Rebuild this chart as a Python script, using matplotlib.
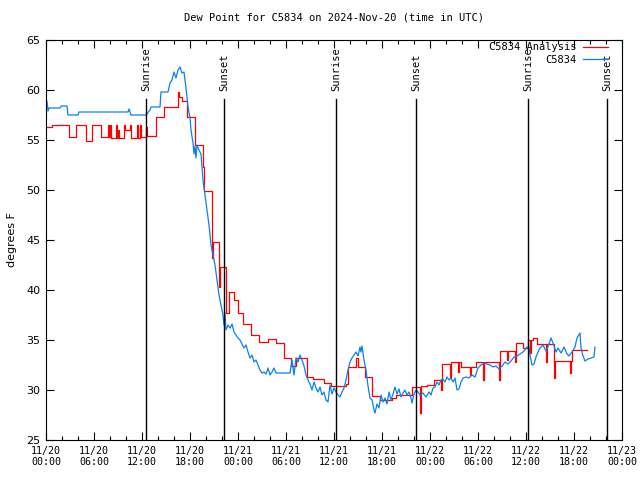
import matplotlib
matplotlib.use("Agg")
import matplotlib.pyplot as plt
import numpy as np

# ---- data (hours since 2024-11-20 00:00 UTC) ----
red_hours = [0, 0.75, 2.875, 3.75, 5.0, 5.75, 6.875, 7.75, 7.875, 8.0, 8.125, 8.75, 8.875, 9.0,
             9.125, 9.75, 9.875, 10.5, 10.625, 11.375, 11.5, 11.75, 11.875, 12.5, 12.625, 13.75,
             14.75, 16.5, 16.625, 17.0, 17.625, 18.625, 19.625, 19.75, 20.75, 20.875, 21.625,
             21.8, 22.5, 22.875, 23.5, 24.0, 24.625, 25.625, 26.625, 27.75, 28.75, 29.75, 30.625,
             31.25, 32.625, 33.375, 34.75, 35.625, 37.5, 37.75, 38.75, 39.0, 39.875, 40.75, 41.75,
             43.25, 43.75, 45.75, 46.75, 46.875, 47.625, 48.5, 49.375, 49.5, 50.5, 50.625, 51.5,
             51.625, 51.875, 53.0, 53.125, 53.75, 54.625, 54.75, 56.625, 56.75, 57.625, 57.75,
             58.625, 58.75, 59.625, 60.25, 60.5, 60.625, 60.875, 61.375, 62.5, 62.625, 63.5,
             63.625, 65.5, 65.625, 65.75, 67.6]
red_vals = [56.3, 56.5, 55.3, 56.5, 54.9, 56.5, 55.3, 56.5, 55.3, 56.5, 55.2, 56.5, 55.2, 56.0,
            55.2, 56.5, 56.0, 56.5, 55.2, 56.5, 55.2, 56.5, 55.3, 56.3, 55.4, 57.3,
            58.3, 59.8, 59.3, 58.9, 57.3, 54.5, 52.3, 49.9, 43.2, 44.8, 40.3,
            42.3, 37.7, 39.8, 39.0, 37.7, 36.6, 35.5, 34.8, 35.1, 34.7, 33.2, 32.4,
            33.2, 31.3, 31.1, 30.7, 30.4, 30.6, 32.3, 33.2, 32.3, 31.3, 29.4, 29.0,
            29.2, 29.5, 30.3, 27.7, 30.4, 30.5, 31.0, 30.0, 32.6, 31.2, 32.8, 31.8,
            32.8, 32.3, 31.5, 32.3, 32.8, 31.0, 32.8, 31.0, 33.9, 33.0, 33.9,
            32.8, 34.7, 34.2, 35.0, 33.7, 35.0, 35.2, 34.6, 32.8, 34.6, 31.2,
            32.9, 31.7, 32.9, 34.0, 34.0]

blue_hours = [0, 0.125, 0.25, 0.375, 1.75, 1.875, 2.625, 2.75, 4.0, 4.125, 10.25, 10.375, 10.5,
              10.625, 12.5, 13.0, 13.125, 14.25, 14.375, 15.25, 15.5, 15.75, 16.0, 16.25, 16.5,
              16.75, 17.0, 17.25, 17.5, 17.75, 18.0, 18.125, 18.375, 18.5, 18.625, 18.75, 18.875,
              19.125, 19.375, 19.625, 19.875, 20.125, 20.375, 20.625, 20.875, 21.125, 21.375,
              21.625, 21.875, 22.125, 22.25, 22.375, 22.5, 22.75, 23.0, 23.25, 23.5, 23.75, 24.0,
              24.25, 24.5, 24.75, 25.0, 25.25, 25.5, 25.75, 26.0, 26.25, 26.5, 26.75, 27.0, 27.25,
              27.5, 27.75, 28.0, 28.25, 28.5, 28.75, 30.5, 30.75, 31.0, 31.25, 31.5, 31.75, 32.0,
              32.25, 32.5, 32.75, 33.0, 33.25, 33.5, 33.75, 34.0, 34.25, 34.5, 34.75, 35.0, 35.25,
              35.5, 35.75, 36.0, 36.25, 36.5, 36.75, 37.0, 37.25, 37.5, 37.75, 38.0, 38.25, 38.5,
              38.75, 39.0, 39.25, 39.375, 39.5, 39.75, 40.0, 40.25, 40.5, 40.75, 41.0, 41.125,
              41.375, 41.625, 41.875, 42.125, 42.375, 42.625, 42.875, 43.125, 43.375, 43.625,
              43.875, 44.125, 44.375, 44.625, 44.875, 45.125, 45.375, 45.625, 45.75, 46.0, 46.25,
              46.5, 46.75, 47.125, 47.5, 47.875, 48.125, 48.375, 48.625, 48.875, 49.125, 49.375,
              49.625, 49.875, 50.125, 50.375, 50.625, 50.875, 51.125, 51.375, 51.625, 51.875,
              52.125, 52.5, 52.875, 53.25, 53.625, 54.0, 54.375, 54.75, 55.125, 55.5, 55.875,
              56.25, 56.625, 57.0, 57.375, 57.75, 58.125, 58.5, 58.875, 59.25, 59.625, 59.875,
              60.125, 60.375, 60.5, 60.75, 61.0, 61.25, 61.5, 61.75, 62.125, 62.5, 62.875, 63.125,
              63.375, 63.75, 64.0, 64.375, 64.75, 65.125, 65.375, 65.75, 66.125, 66.375, 66.75,
              66.875, 67.125, 67.375, 67.75, 68.125, 68.5, 68.625]
blue_vals = [58.3, 58.9, 57.9, 58.2, 58.2, 58.4, 58.4, 57.5, 57.5, 57.8, 57.8, 58.1, 57.8,
             57.5, 57.5, 58.0, 58.3, 58.3, 59.8, 59.8, 60.7, 61.0, 61.8, 61.2, 62.0,
             62.3, 61.7, 61.8, 60.2, 58.3, 57.2, 56.0, 54.7, 53.6, 54.4, 53.2, 54.5,
             54.0, 53.6, 51.0, 49.5, 48.0, 46.5, 44.5, 43.5, 42.5, 41.0,
             39.5, 38.5, 37.5, 36.5, 37.7, 36.0, 36.5, 36.2, 36.6, 35.8, 35.5, 35.2,
             35.0, 34.6, 34.2, 34.5, 33.8, 33.2, 33.5, 32.8, 33.0, 32.5, 32.0, 31.7, 31.8,
             31.6, 32.2, 31.5, 31.8, 32.2, 31.7, 31.7, 33.0, 31.5, 33.2, 32.8, 33.5, 33.0,
             32.4, 31.5, 31.0, 30.6, 30.0, 30.8, 30.2, 29.8, 30.3, 29.5, 29.8, 29.0, 28.8,
             30.5, 29.6, 30.2, 29.8, 29.5, 29.3, 29.8, 30.2, 31.0, 32.0, 32.8, 33.2, 33.5,
             33.8, 33.4, 34.3, 33.8, 34.4, 33.0, 32.0, 30.4, 29.2, 29.0, 28.0, 27.7,
             28.6, 28.2, 29.5, 28.8, 29.2, 28.6, 29.8, 29.0, 29.6, 30.3,
             29.6, 30.1, 29.3, 29.7, 30.0, 29.5, 29.8, 29.2, 28.7, 29.6, 30.0,
             29.8, 29.5, 29.7, 29.3, 29.8, 29.5, 30.2, 30.3, 30.8, 30.5, 31.0,
             31.1, 30.8, 31.3, 31.0, 31.2, 30.8, 31.2, 30.0, 30.1, 30.8,
             31.2, 31.3, 31.2, 31.5, 31.3, 32.2, 32.5, 32.7, 32.6, 32.5, 32.3,
             32.4, 32.1, 32.4, 32.8, 32.6, 32.9, 33.3, 33.4, 33.6, 33.8, 34.0,
             34.3, 34.3, 33.5, 32.5, 32.6, 33.3, 33.8, 34.2, 34.5, 33.9, 34.6, 35.2,
             34.7, 33.8, 34.2, 33.7, 34.3, 33.6, 33.4, 33.8, 34.3, 35.2, 35.7,
             34.2, 33.4, 32.9, 33.1, 33.2, 33.3, 34.3]

sun_hours = [12.5, 22.25, 36.25, 46.25, 60.25, 70.125]
sun_labels = ["Sunrise", "Sunset", "Sunrise", "Sunset", "Sunrise", "Sunset"]

xtick_hours = list(range(0, 73, 6))
xtick_labels = ["11/20\n00:00", "11/20\n06:00", "11/20\n12:00", "11/20\n18:00",
                "11/21\n00:00", "11/21\n06:00", "11/21\n12:00", "11/21\n18:00",
                "11/22\n00:00", "11/22\n06:00", "11/22\n12:00", "11/22\n18:00",
                "11/23\n00:00"]
ytick_vals = list(range(25, 66, 5))

mono = "DejaVu Sans Mono"

fig = plt.figure(figsize=(6.4, 4.8), dpi=100)
ax = fig.add_axes([46/640, 40/480, 576/640, 400/480])

red_c = "#ff0000"
blue_c = "#0a80f0"

ax.plot(red_hours, red_vals, drawstyle="steps-post", color=red_c, lw=0.9,
        label="C5834 Analysis")
ax.plot(blue_hours, blue_vals, color=blue_c, lw=0.9, label="C5834")

for h, lab in zip(sun_hours, sun_labels):
    ax.plot([h, h], [25, 59.1], color="black", lw=1.0)
    ax.text(h, 59.9, lab, rotation=90, ha="center", va="bottom",
            fontsize=7.5, family=mono)

ax.set_xlim(0, 72)
ax.set_ylim(25, 65)
ax.set_xticks(xtick_hours)
ax.set_xticklabels(xtick_labels, family=mono, fontsize=7.2)
ax.set_xticks(list(range(0, 73, 2)), minor=True)
ax.set_yticks(ytick_vals)
ax.set_yticklabels([str(v) for v in ytick_vals], fontsize=8)
ax.tick_params(axis="both", which="both", direction="in", top=True, right=True)
ax.tick_params(axis="both", which="major", length=6, width=0.8)
ax.tick_params(axis="x", which="minor", length=3, width=0.8)
ax.tick_params(axis="x", which="major", pad=4)
ax.tick_params(axis="y", which="major", pad=4)
for s in ax.spines.values():
    s.set_linewidth(0.8)

ax.set_ylabel("degrees F", fontsize=8, labelpad=7)
ax.set_title("Dew Point for C5834 on 2024-Nov-20 (time in UTC)", family=mono,
             fontsize=7.5, pad=14)

leg = ax.legend(loc="upper right", bbox_to_anchor=(0.988, 1.012), frameon=False,
                markerfirst=False, prop={"family": mono, "size": 7.5}, handlelength=2.4,
                borderaxespad=0.3, labelspacing=0.25, handletextpad=0.6)
for t in leg.get_texts():
    t.set_ha("right")

fig.savefig("out.png", dpi=100)
